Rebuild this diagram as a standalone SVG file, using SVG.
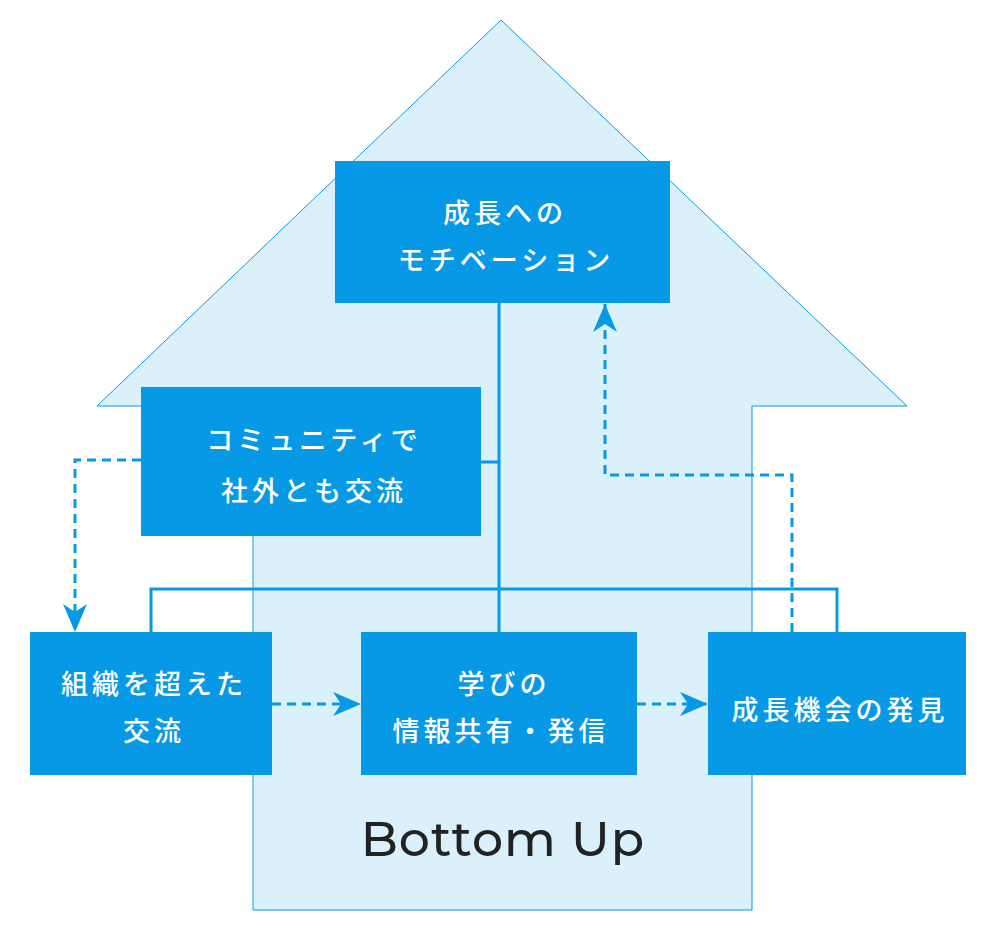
<svg xmlns="http://www.w3.org/2000/svg" width="1000" height="934" viewBox="0 0 1000 934">
<defs>
<style>
.box{fill:#0799e6}
.t{font-family:"Noto Sans CJK JP","Noto Sans",sans-serif;font-size:27px;font-weight:500;fill:#fff;text-anchor:middle;letter-spacing:4px}
.solid{fill:none;stroke:#0799e6;stroke-width:3}
.dash{fill:none;stroke:#0799e6;stroke-width:3;stroke-dasharray:9,6}
</style>
<marker id="ah" viewBox="0 0 28 24" refX="28" refY="12" markerWidth="28" markerHeight="24" markerUnits="userSpaceOnUse" orient="auto">
<path d="M0,0 L28,12 L0,24 L8,12 Z" fill="#0799e6"/>
</marker>
</defs>
<rect width="1000" height="934" fill="#fff"/>
<g id="bigarrow">
<path d="M501,20 L907,406 L752,406 L752,910 L253,910 L253,406 L97,406 Z" fill="#daf0fb" stroke="#0b9be6" stroke-width="1"/>
<text x="503" y="856" font-family="Montserrat,Lato,'Noto Sans',sans-serif" font-size="49" font-weight="500" fill="#222" text-anchor="middle" letter-spacing="1">Bottom Up</text>
</g>
<g id="connectors">
<path class="solid" d="M499,303 L499,632"/>
<path class="solid" d="M481,462 L499,462"/>
<path class="solid" d="M151,632 L151,589 L837,589 L837,632"/>
<path class="dash" d="M141,460 L75,460 L75,632" marker-end="url(#ah)"/>
<path class="dash" d="M272,704 L361,704" marker-end="url(#ah)"/>
<path class="dash" d="M637,704 L708,704" marker-end="url(#ah)"/>
<path class="dash" d="M792,632 L792,475 L605,475 L605,304" marker-end="url(#ah)"/>
</g>
<g id="node-motivation">
<rect class="box" x="335" y="161" width="335" height="142"/>
<text class="t" x="505" y="223">成長への</text>
<text class="t" x="506" y="270">モチベーション</text>
</g>
<g id="node-community">
<rect class="box" x="141" y="387" width="340" height="149"/>
<text class="t" x="314" y="450">コミュニティで</text>
<text class="t" x="314" y="501">社外とも交流</text>
</g>
<g id="node-cross">
<rect class="box" x="30" y="632" width="242" height="143"/>
<text class="t" x="154" y="694">組織を超えた</text>
<text class="t" x="154" y="741">交流</text>
</g>
<g id="node-share">
<rect class="box" x="361" y="632" width="276" height="143"/>
<text class="t" x="504" y="694">学びの</text>
<text class="t" x="501" y="741">情報共有・発信</text>
</g>
<g id="node-discover">
<rect class="box" x="708" y="632" width="258" height="143"/>
<text class="t" x="840" y="720">成長機会の発見</text>
</g>
</svg>
